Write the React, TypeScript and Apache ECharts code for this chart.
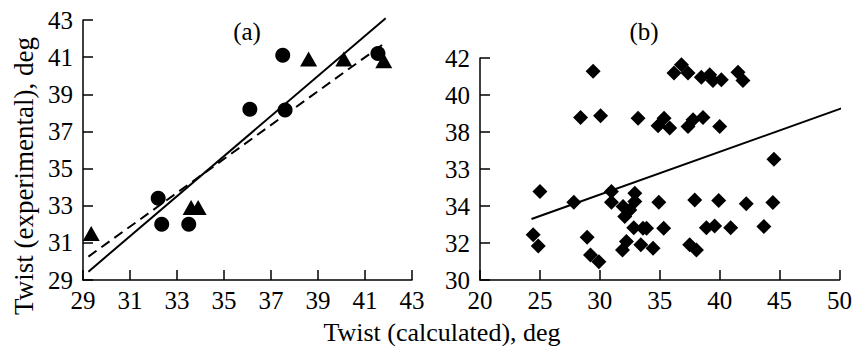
import React, { useEffect, useRef } from "react";
import * as echarts from "echarts";

// Panel (a) data
const circlesA: [number, number][] = [
  [32.2, 33.4], [32.35, 32.0], [33.5, 32.0], [36.1, 38.2], [37.5, 41.1], [37.6, 38.15], [41.55, 41.2],
];
const trianglesA: [number, number][] = [
  [29.35, 31.5], [33.6, 32.9], [33.9, 32.9], [38.6, 40.9], [40.1, 40.9], [41.8, 40.8],
];
const solidLineA: [number, number][] = [[29.23, 29.45], [41.88, 43.09]];
const dashedLineA: [number, number][] = [[29.23, 30.26], [41.92, 41.83]];
const ticksA = [29, 31, 33, 35, 37, 39, 41, 43];

// Panel (b) data
const diamondsB: [number, number][] = [
  [29.44, 41.28], [28.39, 38.79], [30.06, 38.88], [33.19, 38.75], [25.0, 34.78], [27.83, 34.2],
  [24.44, 32.44], [24.86, 31.84], [28.94, 32.31], [29.22, 31.35], [29.92, 30.99], [30.97, 34.78],
  [30.97, 34.2], [31.94, 33.97], [32.08, 33.43], [32.5, 33.79], [32.92, 34.69], [32.92, 34.24],
  [32.83, 32.83], [33.6, 32.8], [33.9, 32.8], [32.22, 32.08], [31.89, 31.62], [33.42, 31.9],
  [34.44, 31.71], [34.92, 34.2], [35.33, 32.8], [34.86, 38.34], [35.36, 38.75], [35.83, 38.21],
  [37.36, 38.3], [37.78, 38.66], [38.61, 38.79], [40.0, 38.3], [36.19, 41.19], [36.81, 41.64],
  [37.36, 41.19], [38.47, 40.96], [39.17, 41.1], [39.44, 40.79], [40.14, 40.83], [41.53, 41.23],
  [41.94, 40.78], [37.92, 34.33], [39.92, 34.3], [42.22, 34.12], [44.44, 34.19], [44.53, 36.53],
  [38.89, 32.83], [39.58, 32.92], [40.92, 32.83], [43.69, 32.89], [37.5, 31.9], [38.06, 31.62],
];
const lineB: [number, number][] = [[24.3, 33.3], [50.7, 39.4]];
const xTicksB = [20, 25, 30, 35, 40, 45, 50];
const yTicksB = [30, 32, 34, 36, 38, 40, 42];
const yLabelsB = ["30", "32", "34", "33", "38", "40", "42"];

const FONT = "Liberation Serif";

export default function App() {
  const ref = useRef<HTMLDivElement>(null);
  useEffect(() => {
    document.body.style.margin = "0";
    const chart = echarts.init(ref.current!, null, { renderer: "svg" });
    const axisLine = { show: true, lineStyle: { color: "#000", width: 1.5 } };
    const axisTick = (vals: number[]) => ({
      show: true, inside: true, length: 10, lineStyle: { color: "#000", width: 1.5 }, customValues: vals,
    });
    const label = (vals: number[], margin: number, fmt?: (v: number) => string) => ({
      color: "#000", fontFamily: FONT, fontSize: 25, margin, customValues: vals,
      formatter: fmt ? (v: number) => fmt(v) : (v: number) => String(v),
    });
    const mark = { color: "#000", opacity: 1 };
    chart.setOption({
      animation: false,
      backgroundColor: "#fff",
      textStyle: { fontFamily: FONT },
      grid: [
        { left: 83, top: 20, width: 329, height: 260 },
        { left: 480, top: 58, width: 360, height: 222 },
      ],
      xAxis: [
        { type: "value", gridIndex: 0, min: 29, max: 43, axisLine, axisTick: axisTick(ticksA), axisLabel: label(ticksA, 8), splitLine: { show: false } },
        { type: "value", gridIndex: 1, min: 20, max: 50, axisLine, axisTick: axisTick(xTicksB), axisLabel: label(xTicksB, 8), splitLine: { show: false } },
      ],
      yAxis: [
        { type: "value", gridIndex: 0, min: 29, max: 43, axisLine, axisTick: axisTick(ticksA), axisLabel: label(ticksA, 10), splitLine: { show: false } },
        {
          type: "value", gridIndex: 1, min: 30, max: 42, axisLine, axisTick: axisTick(yTicksB),
          axisLabel: label(yTicksB, 10, (v) => yLabelsB[yTicksB.indexOf(v)] ?? String(v)), splitLine: { show: false },
        },
      ],
      series: [
        { type: "line", xAxisIndex: 0, yAxisIndex: 0, data: solidLineA, symbol: "none", clip: false, lineStyle: { color: "#000", width: 2 } },
        { type: "line", xAxisIndex: 0, yAxisIndex: 0, data: dashedLineA, symbol: "none", clip: false, lineStyle: { color: "#000", width: 2, type: [10, 6] } },
        { type: "scatter", xAxisIndex: 0, yAxisIndex: 0, data: circlesA, symbol: "circle", symbolSize: 15, itemStyle: mark },
        { type: "scatter", xAxisIndex: 0, yAxisIndex: 0, data: trianglesA, symbol: "triangle", symbolSize: [17, 15], itemStyle: mark },
        { type: "line", xAxisIndex: 1, yAxisIndex: 1, data: lineB, symbol: "none", clip: false, lineStyle: { color: "#000", width: 2 } },
        { type: "scatter", xAxisIndex: 1, yAxisIndex: 1, data: diamondsB, symbol: "diamond", symbolSize: 15, itemStyle: mark },
      ],
      graphic: [
        { type: "text", x: 247, y: 31, style: { text: "(a)", font: `25px ${FONT}`, fill: "#000", align: "center", verticalAlign: "middle" } },
        { type: "text", x: 644, y: 31, style: { text: "(b)", font: `25px ${FONT}`, fill: "#000", align: "center", verticalAlign: "middle" } },
        { type: "text", x: 442, y: 332, style: { text: "Twist (calculated), deg", font: `26px ${FONT}`, fill: "#000", align: "center", verticalAlign: "middle" } },
        { type: "text", x: 24, y: 176, rotation: Math.PI / 2, style: { text: "Twist (experimental), deg", font: `27px ${FONT}`, fill: "#000", align: "center", verticalAlign: "middle" } },
      ],
    });
    return () => chart.dispose();
  }, []);
  return <div ref={ref} style={{ position: "fixed", left: 0, top: 0, width: 855, height: 346 }} />;
}
